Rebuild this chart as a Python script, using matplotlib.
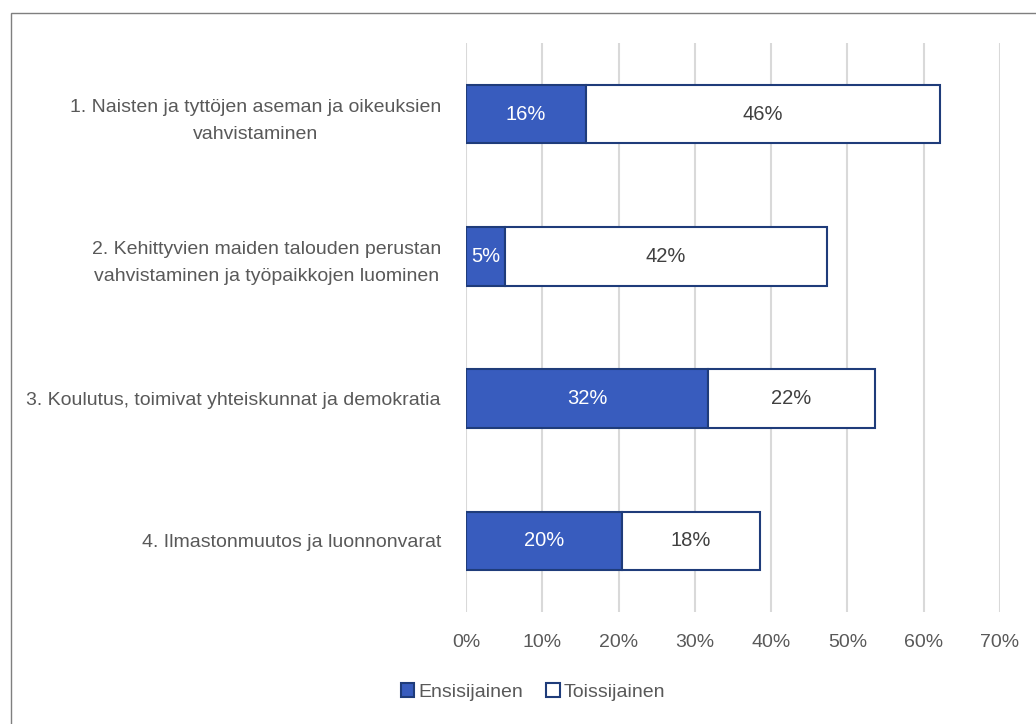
import matplotlib
matplotlib.use("Agg")
import matplotlib.pyplot as plt
from matplotlib.patches import Rectangle
from matplotlib.ticker import FuncFormatter

plt.rcParams['font.family'] = ['Liberation Sans Narrow', 'Liberation Sans', 'DejaVu Sans']

categories = ["1. Naisten ja tyttöjen aseman ja oikeuksien\nvahvistaminen",
              "2. Kehittyvien maiden talouden perustan\nvahvistaminen ja työpaikkojen luominen",
              "3. Koulutus, toimivat yhteiskunnat ja demokratia",
              "4. Ilmastonmuutos ja luonnonvarat"]
ensisijainen = [15.7, 5.1, 31.7, 20.4]
toissijainen = [46.4, 42.2, 21.9, 18.1]
labels_1 = ["16%", "5%", "32%", "20%"]
labels_2 = ["46%", "42%", "22%", "18%"]

textcol = '#595959'
blue = '#385CBE'
edge = '#1F3C7A'

fig = plt.figure(figsize=(10.36, 7.24), dpi=100)
fig.patches.append(Rectangle((11/1036, -0.05), 1.1, (724-13)/724 + 0.05, transform=fig.transFigure,
                             fill=False, edgecolor='#7f7f7f', linewidth=1.0))
ax = fig.add_axes([466/1036, 112/724, 534/1036, 569/724])

y = list(range(len(categories)))
ax.barh(y, ensisijainen, height=0.41, color=blue, edgecolor=edge, linewidth=1.5,
        label='Ensisijainen', zorder=3)
ax.barh(y, toissijainen, left=ensisijainen, height=0.41, color='white', edgecolor=edge,
        linewidth=1.5, label='Toissijainen', zorder=3)

for i in y:
    ax.text(ensisijainen[i] / 2, i, labels_1[i], color='white', ha='center', va='center',
            fontsize=14.5, zorder=4)
    ax.text(ensisijainen[i] + toissijainen[i] / 2, i, labels_2[i], color='#404040',
            ha='center', va='center', fontsize=14.5, zorder=4)

ax.set_xlim(0, 70)
ax.set_ylim(3.5, -0.5)
ax.set_xticks(range(0, 71, 10))
ax.xaxis.set_major_formatter(FuncFormatter(lambda v, p: "%d%%" % v))
ax.set_yticks(y)
ax.set_yticklabels(categories, ha='right', multialignment='center', linespacing=1.75)
ax.tick_params(axis='y', length=0, pad=18, labelsize=14, labelcolor=textcol)
ax.tick_params(axis='x', length=0, pad=16, labelsize=14, labelcolor=textcol)
ax.grid(axis='x', color='#d9d9d9', linewidth=1.5, zorder=0)
for s in ax.spines.values():
    s.set_visible(False)

leg = fig.legend(loc='center', bbox_to_anchor=(533/1036, 1 - 692/724), ncol=2, frameon=False,
                 fontsize=14, handlelength=0.7, handleheight=0.7, handletextpad=0.2,
                 columnspacing=1.2, labelcolor=textcol)

fig.savefig("out.png", dpi=100)
